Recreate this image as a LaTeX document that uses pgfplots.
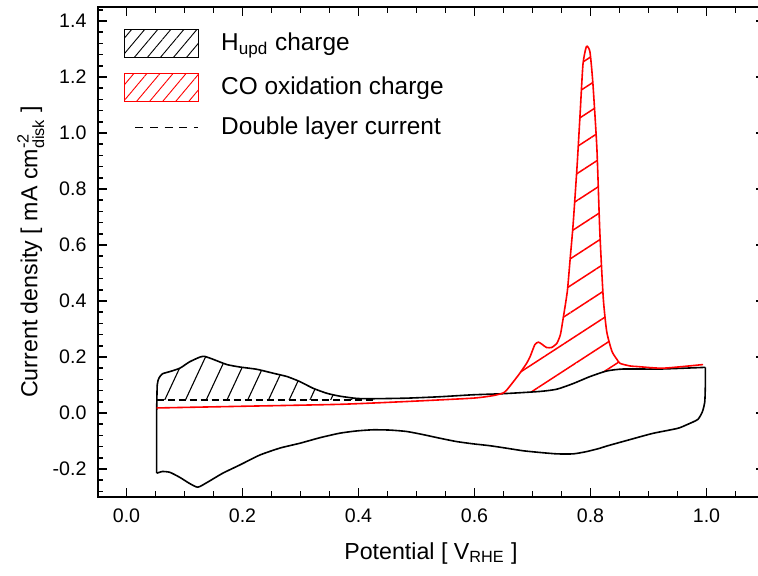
\documentclass[border=0pt]{standalone}
\usepackage{amsmath}
\usepackage{pgfplots}
\pgfplotsset{compat=1.18}
\usepgfplotslibrary{fillbetween}
\usetikzlibrary{patterns.meta}
\usepackage{fontspec}
\setmainfont{Liberation Sans}
\definecolor{cored}{RGB}{255,0,0}
\begin{document}
\begin{tikzpicture}
\begin{axis}[
  scale only axis, width=333.5pt, height=245pt,
  xmin=-0.05, xmax=1.1, ymin=-0.3, ymax=1.45,
  xtick={0,0.2,0.4,0.6,0.8,1.0},
  ytick={-0.2,0,0.2,0.4,0.6,0.8,1.0,1.2,1.4},
  minor xtick={-0.05,0,...,1.1},
  minor ytick={-0.28,-0.24,...,1.44},
  tick align=inside,
  major tick length=4.5pt, minor tick length=2.8pt,
  every tick/.style={black, line width=0.8pt},
  axis line style={line width=1pt},
  /pgf/number format/assume math mode=true,
  /pgf/number format/.cd, fixed, fixed zerofill, precision=1,
  /pgfplots/.cd,
  tick label style={font=\fontsize{9.8}{11}\selectfont},
  yticklabel style={xshift=-2.0pt},
  xticklabel style={yshift=-2.2pt},
  label style={font=\fontsize{11.6}{13}\selectfont},
  xlabel={Potential [ V\textsubscript{RHE} ]},
  ylabel={Current density [ mA cm$^{\text{-2}}_{\text{disk}}$ ]},
  xlabel style={at={(axis description cs:0.5,-0.115)}, anchor=center},
  ylabel style={at={(axis description cs:-0.1,0.5)}, anchor=center},
  legend style={draw=none, fill=none, inner sep=0pt, outer sep=0pt,
    at={(axis description cs:0.0397,0.955)}, anchor=north west,
    row sep=7.5pt, font=\fontsize{12.2}{14}\selectfont,
    nodes={inner sep=0pt, anchor=west}},
  legend cell align=left,
  /tikz/every odd column/.append style={column sep=11pt},
]
% legend entries
\addlegendimage{legend image code/.code={
  \draw[black, line width=0.5pt, pattern={Lines[angle=50,distance=5pt,line width=0.45pt]}, pattern color=black] (0pt,-7pt) rectangle (37pt,7pt);}}
\addlegendentry{H\textsubscript{upd} charge}
\addlegendimage{legend image code/.code={
  \draw[cored, line width=0.5pt, pattern={Lines[angle=50,distance=5pt,line width=0.45pt]}, pattern color=cored] (0pt,-7pt) rectangle (37pt,7pt);}}
\addlegendentry{CO oxidation charge}
\addlegendimage{legend image code/.code={
  \path[draw=none, fill=none] (0pt,-1pt) rectangle (37pt,1pt);
  \draw[black, line width=0.7pt, dash pattern=on 4pt off 3.3pt] (5.5pt,0pt) -- (37pt,0pt);}}
\addlegendentry{Double layer current}

% hatched areas (drawn first)
\addplot[draw=none, name path=anodhid, forget plot, smooth, tension=0.35] coordinates {
(0.053,0.100) (0.056,0.125) (0.062,0.140) (0.075,0.148) (0.092,0.160)
(0.109,0.183) (0.127,0.200) (0.135,0.202) (0.149,0.192) (0.173,0.173)
(0.196,0.164) (0.225,0.156) (0.253,0.142) (0.277,0.130) (0.299,0.112)
(0.322,0.088) (0.346,0.070) (0.368,0.060) (0.397,0.052) (0.425,0.051)
(0.483,0.053) (0.540,0.058) (0.597,0.065) (0.650,0.069) (0.713,0.077)
(0.742,0.085) (0.770,0.105) (0.799,0.130) (0.828,0.150) (0.856,0.157)
(0.920,0.157) (0.998,0.163)};
\addplot[draw=none, name path=dl, forget plot] coordinates {(0.052,0.047) (0.425,0.047)};
\addplot[draw=none, name path=co, forget plot, smooth, tension=0.35] coordinates {
(0.050,0.018) (0.200,0.024) (0.368,0.031) (0.483,0.041) (0.597,0.053)
(0.632,0.062) (0.649,0.071) (0.656,0.083) (0.676,0.136) (0.690,0.178)
(0.696,0.202) (0.704,0.244) (0.710,0.253) (0.716,0.246) (0.724,0.234)
(0.733,0.234) (0.742,0.249) (0.748,0.279) (0.752,0.327) (0.760,0.434)
(0.765,0.553) (0.770,0.673) (0.777,0.887) (0.782,1.066) (0.787,1.245)
(0.793,1.309) (0.799,1.290) (0.804,1.180) (0.811,0.945) (0.816,0.650)
(0.822,0.410) (0.828,0.290) (0.837,0.220) (0.846,0.190) (0.851,0.177)
(0.868,0.168) (0.880,0.166) (0.925,0.160) (0.994,0.173)};
\addplot[draw=none, forget plot, pattern={Lines[angle=65,distance=9.4pt,line width=0.55pt]}, pattern color=black]
  fill between[of=anodhid and dl, soft clip={domain=0.054:0.425}];
\addplot[draw=none, forget plot, pattern={Lines[angle=33,distance=11.3pt,line width=0.75pt]}, pattern color=cored]
  fill between[of=co and anodhid, soft clip={domain=0.645:0.95}];

% dashed double layer line
\addplot[forget plot, black, line width=0.7pt, dash pattern=on 3.5pt off 2pt] coordinates {(0.052,0.047) (0.425,0.047)};

% blank CV, anodic branch
\addplot[forget plot, black, line width=0.8pt, smooth, tension=0.35] coordinates {
(0.052,-0.215) (0.052,-0.100) (0.052,0.000) (0.053,0.100) (0.056,0.125) (0.062,0.140)
(0.075,0.148) (0.092,0.160) (0.109,0.183) (0.127,0.200) (0.135,0.202)
(0.149,0.192) (0.173,0.173) (0.196,0.164) (0.225,0.156) (0.253,0.142)
(0.277,0.130) (0.299,0.112) (0.322,0.088) (0.346,0.070) (0.368,0.060)
(0.397,0.052) (0.425,0.051) (0.483,0.053) (0.540,0.058) (0.597,0.065)
(0.650,0.069) (0.713,0.077) (0.742,0.085) (0.770,0.105) (0.799,0.130)
(0.828,0.150) (0.856,0.157) (0.920,0.157) (0.998,0.163)};
% blank CV, cathodic branch
\addplot[forget plot, black, line width=0.8pt, smooth, tension=0.35] coordinates {
(0.998,0.163) (0.998,0.100) (0.997,0.040) (0.993,0.005) (0.985,-0.023)
(0.967,-0.041) (0.950,-0.055) (0.907,-0.073) (0.868,-0.095) (0.828,-0.118)
(0.816,-0.126) (0.793,-0.138) (0.770,-0.146) (0.742,-0.146) (0.713,-0.141)
(0.684,-0.135) (0.656,-0.126) (0.627,-0.117) (0.597,-0.110) (0.569,-0.102)
(0.540,-0.090) (0.511,-0.077) (0.483,-0.066) (0.454,-0.061) (0.425,-0.060)
(0.397,-0.064) (0.368,-0.072) (0.334,-0.088) (0.299,-0.108) (0.265,-0.125)
(0.230,-0.150) (0.196,-0.185) (0.166,-0.215) (0.139,-0.248) (0.123,-0.265)
(0.109,-0.252) (0.092,-0.230) (0.075,-0.212) (0.062,-0.209) (0.052,-0.215)};
% CO stripping, anodic scan
\addplot[forget plot, cored, line width=0.8pt, smooth, tension=0.35] coordinates {
(0.052,0.018) (0.200,0.024) (0.368,0.031) (0.483,0.041) (0.597,0.053)
(0.632,0.062) (0.649,0.071) (0.656,0.083) (0.676,0.136) (0.690,0.178)
(0.696,0.202) (0.704,0.244) (0.710,0.253) (0.716,0.246) (0.724,0.234)
(0.733,0.234) (0.742,0.249) (0.748,0.279) (0.752,0.327) (0.760,0.434)
(0.765,0.553) (0.770,0.673) (0.777,0.887) (0.782,1.066) (0.787,1.245)
(0.793,1.309) (0.799,1.290) (0.804,1.180) (0.811,0.945) (0.816,0.650)
(0.822,0.410) (0.828,0.290) (0.837,0.220) (0.846,0.190) (0.851,0.177)
(0.868,0.168) (0.880,0.166) (0.925,0.160) (0.994,0.173)};
\coordinate (bl) at (rel axis cs:0,0);
\coordinate (tr) at (rel axis cs:1,1);
\end{axis}
\pgfresetboundingbox
\path[use as bounding box] ([shift={(-48.75pt,-39.15pt)}]bl) rectangle ([shift={(-3.25pt,3.5pt)}]tr);
\end{tikzpicture}
\end{document}
